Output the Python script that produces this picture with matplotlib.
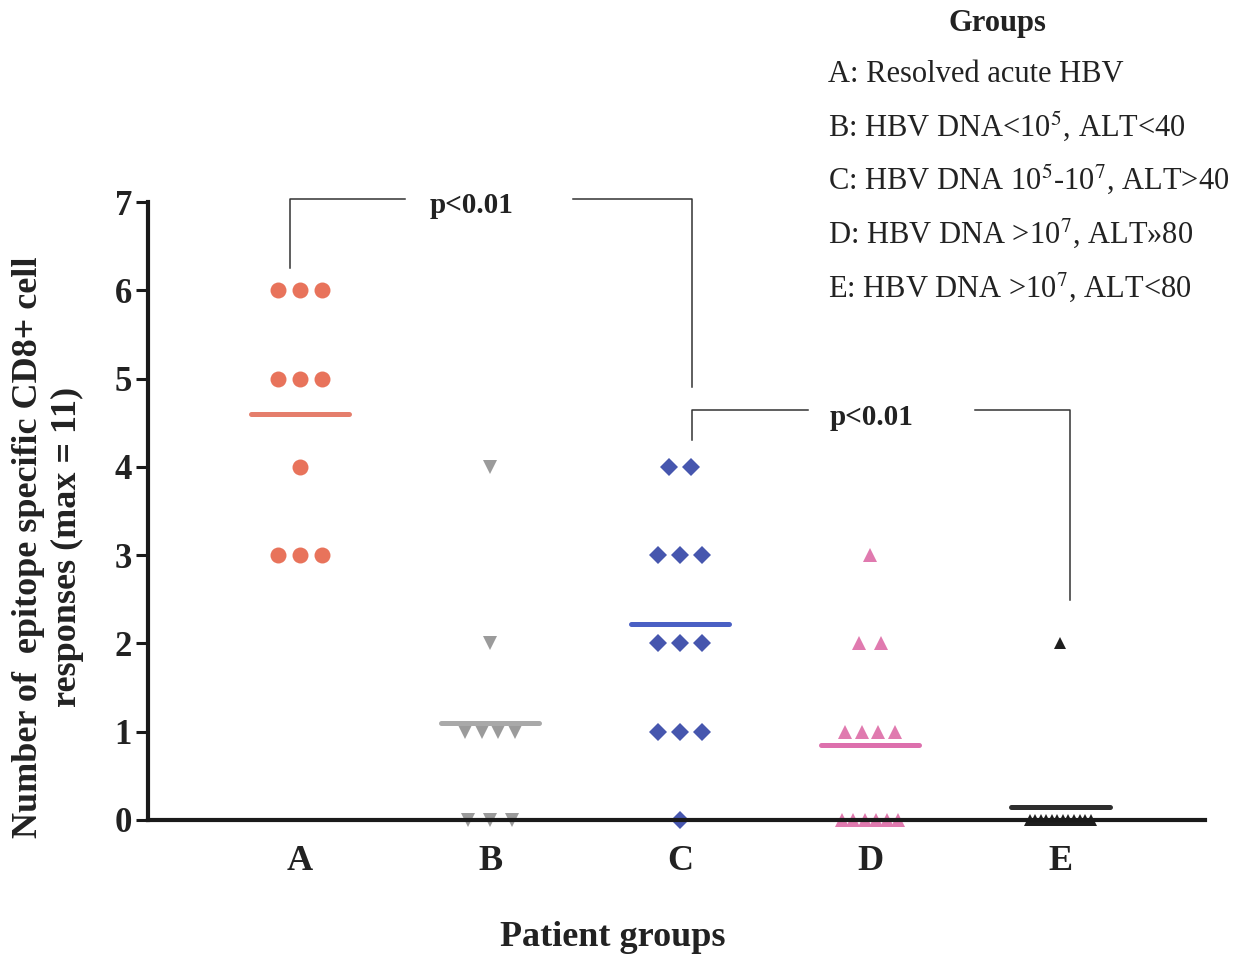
import numpy as np
import matplotlib
matplotlib.use("Agg")
import matplotlib.pyplot as plt

plt.rcParams["font.family"] = ["Liberation Serif", "DejaVu Serif"]
plt.rcParams["mathtext.fontset"] = "stix"

# data: response counts per patient in each group
groups = ["A", "B", "C", "D", "E"]
values_a = [6, 6, 6, 5, 5, 5, 4, 3, 3, 3]
values_b = [4, 2, 1, 1, 1, 1, 0, 0, 0]
values_c = [4, 4, 3, 3, 3, 2, 2, 2, 1, 1, 1, 0]
values_d = [3, 2, 2, 1, 1, 1, 1, 0, 0, 0, 0, 0, 0]
values_e = [2, 0, 0, 0, 0, 0, 0, 0, 0, 0, 0, 0, 0]
group_means = [4.6, 1.1, 2.22, 0.85, 0.15]

legend_lines = [
    "A: Resolved acute HBV",
    r"B: HBV DNA<10$^5$, ALT<40",
    r"C: HBV DNA 10$^5$-10$^7$, ALT>40",
    r"D: HBV DNA >10$^7$, ALT»80",
    r"E: HBV DNA >10$^7$, ALT<80",
]

all_values = [values_a, values_b, values_c, values_d, values_e]
markers = ["o", "v", "D", "^", "^"]
marker_sizes = [11.5, 10, 9, 10, 9]
point_colors = ["#E8735B", "#9B9B9B", "#4656AE", "#E07AAF", "#1E1E1E"]
mean_colors = ["#E57E6C", "#A9A9A9", "#4A60C4", "#DD70AD", "#2E2E2E"]

fig = plt.figure(figsize=(12.35, 9.57), dpi=100)
ax = fig.add_axes([0.1198, 0.1155, 0.856, 0.701])

for i, vals in enumerate(all_values):
    vals = np.array(vals)
    for level in np.unique(vals):
        n = np.sum(vals == level)
        step = min(0.116, 0.35 / n)
        offs = (np.arange(n) - (n - 1) / 2) * step
        ax.plot(i + offs, [level] * n, linestyle="none", marker=markers[i],
                markersize=marker_sizes[i], color=point_colors[i],
                markeredgewidth=0, zorder=2, clip_on=False)
    ax.plot([i - 0.26, i + 0.26], [group_means[i], group_means[i]],
            color=mean_colors[i], lw=3.6, solid_capstyle="round", zorder=3)

# significance brackets
bcol = "#333333"
ax.plot([-0.053, -0.053, 0.553], [6.25, 7.04, 7.04], color=bcol, lw=1.1, clip_on=False)
ax.plot([1.437, 2.063, 2.063], [7.04, 7.04, 4.90], color=bcol, lw=1.1, clip_on=False)
ax.text(0.905, 6.96, "p<0.01", ha="center", va="center", fontsize=21, fontweight="bold", color="#222")
ax.plot([2.063, 2.063, 2.674], [4.30, 4.64, 4.64], color=bcol, lw=1.1, clip_on=False)
ax.plot([3.553, 4.053, 4.053], [4.64, 4.64, 2.49], color=bcol, lw=1.1, clip_on=False)
ax.text(3.01, 4.56, "p<0.01", ha="center", va="center", fontsize=21, fontweight="bold", color="#222")

ax.set_xlim(-0.8, 4.763)
ax.set_ylim(-0.3, 7.3)
ax.spines["top"].set_visible(False)
ax.spines["right"].set_visible(False)
ax.spines["bottom"].set_position(("data", 0))
ax.spines["left"].set_bounds(0, 7)
ax.spines["left"].set_linewidth(3)
ax.spines["bottom"].set_linewidth(3)
ax.spines["left"].set_color("#1a1a1a")
ax.spines["bottom"].set_color("#1a1a1a")
ax.spines["bottom"].set_zorder(4)

ax.set_yticks(range(8))
ax.set_yticklabels([str(t) for t in range(8)], fontsize=25, fontweight="bold", color="#222")
ax.tick_params(axis="y", length=8.5, width=2.2, pad=3, color="#1a1a1a")
ax.set_xticks(range(len(groups)))
ax.set_xticklabels(groups, fontsize=26, fontweight="bold", color="#222")
ax.tick_params(axis="x", length=0, pad=18)

fig.text(48 / 1235, 1 - 547 / 957,
         "Number of  epitope specific CD8+ cell\nresponses (max = 11)",
         rotation=90, ha="center", va="center", multialignment="center",
         fontsize=26, fontweight="bold", linespacing=1.2, color="#222")
fig.text(613 / 1235, 1 - 937 / 957, "Patient groups", ha="center", va="center",
         fontsize=26, fontweight="bold", color="#222")

fig.text(997 / 1235, 1 - 24 / 957, "Groups", ha="center", va="center",
         fontsize=22, fontweight="bold", color="#222")
legend_y = [75, 127, 180, 233, 287]
for txt, yy in zip(legend_lines, legend_y):
    fig.text(828 / 1235, 1 - yy / 957, txt, ha="left", va="center",
             fontsize=22, color="#222")

fig.savefig("out.png", dpi=100)
